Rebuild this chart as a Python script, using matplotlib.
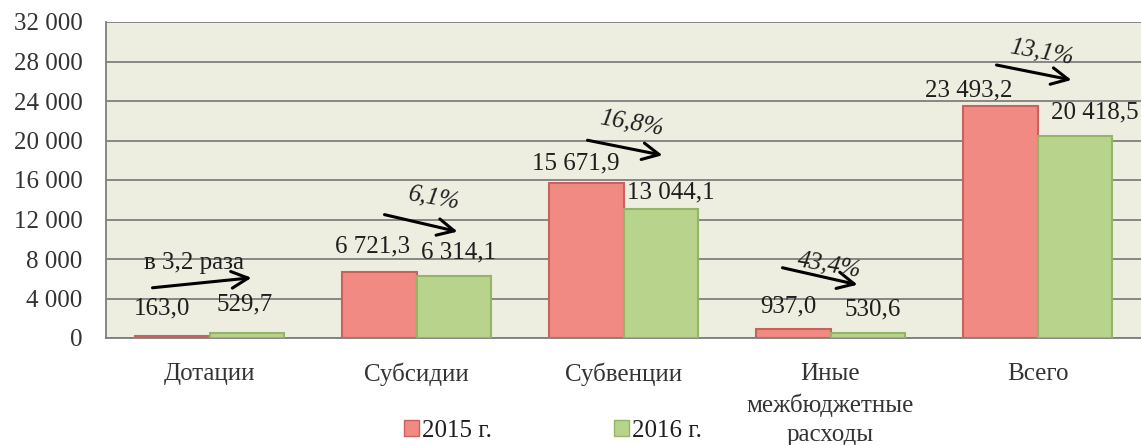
import matplotlib
matplotlib.use("Agg")
import matplotlib.pyplot as plt
from matplotlib.patches import Patch
from matplotlib.transforms import offset_copy
import numpy as np

categories = ["Дотации", "Субсидии", "Субвенции",
              "Иные\nмежбюджетные\nрасходы", "Всего"]
v2015 = [163.0, 6721.3, 15671.9, 937.0, 23493.2]
v2016 = [529.7, 6314.1, 13044.1, 530.6, 20418.5]
lab2015 = ["163,0", "6 721,3", "15 671,9", "937,0", "23 493,2"]
lab2016 = ["529,7", "6 314,1", "13 044,1", "530,6", "20 418,5"]
changes = ["в 3,2 раза", "6,1%", "16,8%", "43,4%", "13,1%"]
yticks = [0, 4000, 8000, 12000, 16000, 20000, 24000, 28000, 32000]

# layout offsets in pixels (dx, dy) from bar top centre
off15 = [(-10, 28), (-6, 25), (-10, 20), (-5, 22), (-31, 16)]
off16 = [(-2, 28), (5, 23), (10, 17), (5, 23), (20, 24)]
# arrows: (start dx, start dy, end dx, end dy, text dx, text dy) from group top
arrows = [(-57, 45, 42, 55, -15, 70),
          (-32, 57, 41, 40, 18, 74),
          (-36, 43, 39, 28, 8, 60),
          (-48, 61, 27, 44, -1, 64),
          (-41, 41, 34, 26, 4, 54)]

RED, RED_E = "#F28A84", "#C8625E"
GRN, GRN_E = "#B8D48C", "#93B565"
FONT = "Liberation Serif"
FS = 18
TXT = "#1E1E1E"

plt.rcParams["font.family"] = [FONT, "DejaVu Serif"]

W, H = 1141, 445
fig = plt.figure(figsize=(W / 100, H / 100), dpi=100)
ax = fig.add_axes([106 / W, 1 - 338 / H, 1 - 106 / W, (338 - 22) / H])
ax.set_facecolor("#EDEDE0")

x = np.arange(len(categories))
bw = 0.362
ax.bar(x - bw / 2, v2015, bw, color=RED, edgecolor=RED_E, lw=1.5, zorder=3)
ax.bar(x + bw / 2, v2016, bw, color=GRN, edgecolor=GRN_E, lw=1.5, zorder=3)

ax.set_xlim(-0.5, 4.5)
ax.set_ylim(0, 32000)
ax.set_yticks(yticks)
ax.set_yticklabels([f"{t:,}".replace(",", " ") for t in yticks],
                   fontsize=FS, color="#333333")
ax.set_xticks(x)
ax.set_xticklabels(categories, fontsize=FS, color="#333333", linespacing=1.45)
ax.tick_params(axis="y", length=0, pad=17)
ax.tick_params(axis="x", length=0, pad=18)
ax.yaxis.grid(True, color="#7F7F7F", lw=1.3, zorder=1)
ax.set_axisbelow(True)
for sp in ("top", "right"):
    ax.spines[sp].set_visible(False)
for sp in ("left", "bottom"):
    ax.spines[sp].set_color("#7F7F7F")
    ax.spines[sp].set_linewidth(1.3)


def tr(dx, dy):
    return offset_copy(ax.transData, fig=fig, x=dx, y=dy, units="dots")


for i in range(len(categories)):
    dx, dy = off15[i]
    ax.text(x[i] - bw / 2, v2015[i], lab2015[i], transform=tr(dx, dy),
            ha="center", va="center", fontsize=FS, color=TXT, zorder=5)
    dx, dy = off16[i]
    ax.text(x[i] + bw / 2, v2016[i], lab2016[i], transform=tr(dx, dy),
            ha="center", va="center", fontsize=FS, color=TXT, zorder=5)

    top = max(v2015[i], v2016[i])
    sx, sy, ex, ey, tx, ty = arrows[i]
    ax.annotate("", xy=(x[i], top), xycoords=tr(ex, ey),
                xytext=(x[i], top), textcoords=tr(sx, sy),
                arrowprops=dict(arrowstyle="->", lw=2.2, color="black",
                                mutation_scale=30, shrinkA=0, shrinkB=0),
                zorder=6)
    pct = changes[i].endswith("%")
    ax.text(x[i], top, changes[i], transform=tr(tx, ty), ha="center",
            va="center", fontsize=FS, color=TXT,
            style="italic" if pct else "normal",
            rotation=-10 if pct else 0, zorder=6)

handles = [Patch(facecolor=RED, edgecolor=RED_E, label="2015 г."),
           Patch(facecolor=GRN, edgecolor=GRN_E, label="2016 г.")]
fig.legend(handles=handles, loc="center", bbox_to_anchor=(553 / W, 1 - 431 / H),
           ncol=2, frameon=False, fontsize=FS, handlelength=0.6,
           handleheight=0.6, handletextpad=0.1, columnspacing=4.9,
           borderpad=0, labelcolor=TXT)

fig.savefig("out.png", dpi=100)
